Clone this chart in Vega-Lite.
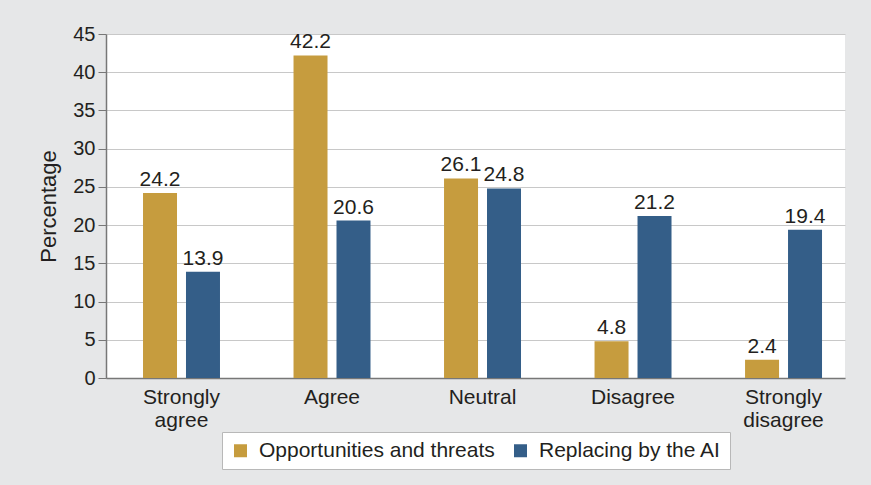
{
  "$schema": "https://vega.github.io/schema/vega-lite/v6.json",
  "width": 739,
  "height": 344,
  "autosize": "none",
  "padding": {"left": 106, "top": 34, "right": 26, "bottom": 107},
  "background": "#e6e7e8",
  "config": {
    "view": {"fill": "#ffffff", "stroke": null},
    "font": "Liberation Sans",
    "text": {"font": "Liberation Sans"}
  },
  "data": {
    "values": [
      {"response": "Strongly agree", "series": "Opportunities and threats", "pct": 24.2},
      {"response": "Strongly agree", "series": "Replacing by the AI", "pct": 13.9},
      {"response": "Agree", "series": "Opportunities and threats", "pct": 42.2},
      {"response": "Agree", "series": "Replacing by the AI", "pct": 20.6},
      {"response": "Neutral", "series": "Opportunities and threats", "pct": 26.1},
      {"response": "Neutral", "series": "Replacing by the AI", "pct": 24.8},
      {"response": "Disagree", "series": "Opportunities and threats", "pct": 4.8},
      {"response": "Disagree", "series": "Replacing by the AI", "pct": 21.2},
      {"response": "Strongly disagree", "series": "Opportunities and threats", "pct": 2.4},
      {"response": "Strongly disagree", "series": "Replacing by the AI", "pct": 19.4}
    ]
  },
  "encoding": {
    "x": {
      "field": "response",
      "type": "nominal",
      "sort": ["Strongly agree", "Agree", "Neutral", "Disagree", "Strongly disagree"],
      "scale": {"paddingInner": 0.09, "paddingOuter": 0, "align": 0},
      "axis": {
        "title": null,
        "labelAngle": 0,
        "ticks": false,
        "domainColor": "#777777",
        "domainWidth": 1.5,
        "labelPadding": 8,
        "labelFontSize": 21,
        "labelColor": "#231f20",
        "labelLineHeight": 23,
        "labelOffset": 7,
        "labelExpr": "datum.value == 'Strongly agree' ? ['Strongly', 'agree'] : datum.value == 'Strongly disagree' ? ['Strongly', 'disagree'] : datum.value"
      }
    },
    "xOffset": {
      "field": "series",
      "type": "nominal",
      "scale": {"paddingInner": 0.209, "paddingOuter": 0.698, "align": 0.617}
    },
    "y": {
      "field": "pct",
      "type": "quantitative",
      "scale": {"domain": [0, 45], "nice": false},
      "axis": {
        "title": "Percentage",
        "titleFontSize": 22,
        "titleFontWeight": "normal",
        "titleColor": "#231f20",
        "titlePadding": 12,
        "values": [0, 5, 10, 15, 20, 25, 30, 35, 40, 45],
        "grid": true,
        "gridColor": "#c8c8c8",
        "gridWidth": 1.2,
        "domainColor": "#777777",
        "domainWidth": 1.5,
        "tickColor": "#777777",
        "tickSize": 8,
        "labelPadding": 3,
        "labelFontSize": 20,
        "labelColor": "#231f20"
      }
    }
  },
  "layer": [
    {
      "mark": {"type": "bar"},
      "encoding": {
        "color": {
          "field": "series",
          "type": "nominal",
          "scale": {
            "domain": ["Opportunities and threats", "Replacing by the AI"],
            "range": ["#c69c3e", "#345e88"]
          },
          "legend": {
            "title": null,
            "orient": "none",
            "direction": "horizontal",
            "legendX": 116,
            "legendY": 398,
            "symbolType": "square",
            "symbolSize": 169,
            "symbolStrokeWidth": 0,
            "labelFontSize": 21,
            "labelLimit": 0,
            "labelColor": "#231f20",
            "labelOffset": 8,
            "columnPadding": 15,
            "padding": 8,
            "fillColor": "#ffffff",
            "strokeColor": "#b8b8b8"
          }
        }
      }
    },
    {
      "mark": {
        "type": "text",
        "baseline": "bottom",
        "dy": -3,
        "fontSize": 21,
        "color": "#231f20"
      },
      "encoding": {
        "text": {"field": "pct", "type": "quantitative", "format": ".1f"}
      }
    }
  ]
}
